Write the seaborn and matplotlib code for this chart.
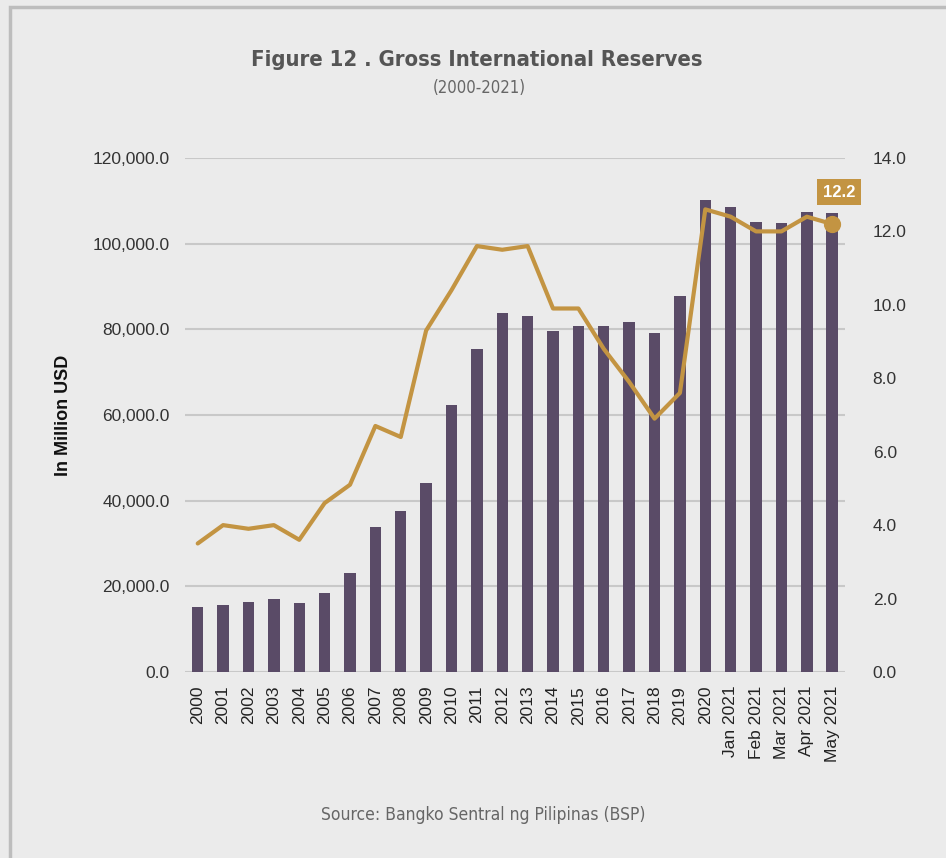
import numpy as np
import pandas as pd
import seaborn as sns
import matplotlib.pyplot as plt
from matplotlib.patches import Rectangle
from matplotlib.ticker import FuncFormatter

# data
periods = ['2000', '2001', '2002', '2003', '2004', '2005', '2006', '2007', '2008',
           '2009', '2010', '2011', '2012', '2013', '2014', '2015', '2016', '2017',
           '2018', '2019', '2020', 'Jan 2021', 'Feb 2021', 'Mar 2021', 'Apr 2021',
           'May 2021']
reserves = [15100, 15700, 16400, 17100, 16200, 18500, 23000, 33800, 37600,
            44200, 62400, 75300, 83800, 83200, 79500, 80700, 80700, 81600,
            79200, 87800, 110100, 108600, 105000, 104800, 107300, 107100]
import_cover = [3.5, 4.0, 3.9, 4.0, 3.6, 4.6, 5.1, 6.7, 6.4, 9.3, 10.4, 11.6,
                11.5, 11.6, 9.9, 9.9, 8.8, 7.9, 6.9, 7.6, 12.6, 12.4, 12.0,
                12.0, 12.4, 12.2]
left_ticks = [0, 20000, 40000, 60000, 80000, 100000, 120000]
right_ticks = [0, 2, 4, 6, 8, 10, 12, 14]

bg = '#EBEBEB'
bar_color = '#5A4B67'
gold = '#C39442'
narrow = ['Liberation Sans Narrow', 'DejaVu Sans']

sns.set_theme(style='white')
plt.rcParams['font.family'] = ['Liberation Sans', 'DejaVu Sans']

df = pd.DataFrame({'period': periods, 'reserves': reserves, 'cover': import_cover})

fig = plt.figure(figsize=(9.46, 8.58), dpi=100, facecolor=bg)
fig.patches.append(Rectangle((10 / 946, -0.1), 1.2, 1.1 - 7 / 858, transform=fig.transFigure,
                             fill=False, edgecolor='#BDBDBD', linewidth=2.5, zorder=0))
ax = fig.add_axes([0.1956, 0.2168, 0.6975, 0.5991])
ax.set_facecolor(bg)

sns.barplot(data=df, x='period', y='reserves', color=bar_color, width=0.45,
            saturation=1, edgecolor='none', ax=ax)
ax.set_xlim(-0.5, len(periods) - 0.5)
ax.set_ylim(0, 120000)
ax.set_yticks(left_ticks)
ax.yaxis.set_major_formatter(FuncFormatter(lambda v, p: f'{v:,.1f}'))
ax.grid(axis='y', color='#C8C8C8', linewidth=1.5)
ax.set_axisbelow(True)
ax.tick_params(axis='y', length=0, pad=11, labelsize=12.5, labelcolor='#333333')
ax.tick_params(axis='x', length=0, pad=10, labelsize=12.5, labelcolor='#222222', rotation=90)
ax.set_xlabel('')
ax.set_ylabel('In Million USD', fontsize=13, fontweight='bold', color='#111111', labelpad=15)
sns.despine(ax=ax, left=True, bottom=True)

ax2 = ax.twinx()
sns.lineplot(x=np.arange(len(periods)), y=df['cover'], color=gold, linewidth=3,
             sort=False, ax=ax2)
ax2.scatter([len(periods) - 1], [import_cover[-1]], s=130, color=gold, zorder=5)
ax2.set_ylim(0, 14)
ax2.set_yticks(right_ticks)
ax2.yaxis.set_major_formatter(FuncFormatter(lambda v, p: f'{v:.1f}'))
ax2.tick_params(axis='y', length=0, pad=20, labelsize=12.5, labelcolor='#333333')
ax2.set_ylabel('')
ax2.grid(False)
sns.despine(ax=ax2, left=True, bottom=True, right=True)

ax2.annotate(f'{import_cover[-1]:.1f}', xy=(len(periods) - 1, import_cover[-1]),
             xytext=(5, 23), textcoords='offset points', ha='center', va='center',
             fontsize=12, fontweight='bold', color='white',
             bbox=dict(boxstyle='square,pad=0.35', facecolor=gold, edgecolor='none'))

fig.text(0.5035, 0.930, 'Figure 12 . Gross International Reserves', family=narrow,
         fontstretch='condensed', fontsize=15.8, fontweight='bold', color='#555555',
         ha='center', va='center')
fig.text(0.507, 0.897, '(2000-2021)', family=narrow, fontstretch='condensed',
         fontsize=12, color='#666666', ha='center', va='center')
fig.text(0.511, 0.050, 'Source: Bangko Sentral ng Pilipinas (BSP)', family=narrow,
         fontstretch='condensed', fontsize=12.5, color='#666666', ha='center', va='center')

fig.savefig('out.png', dpi=100, facecolor=bg)
